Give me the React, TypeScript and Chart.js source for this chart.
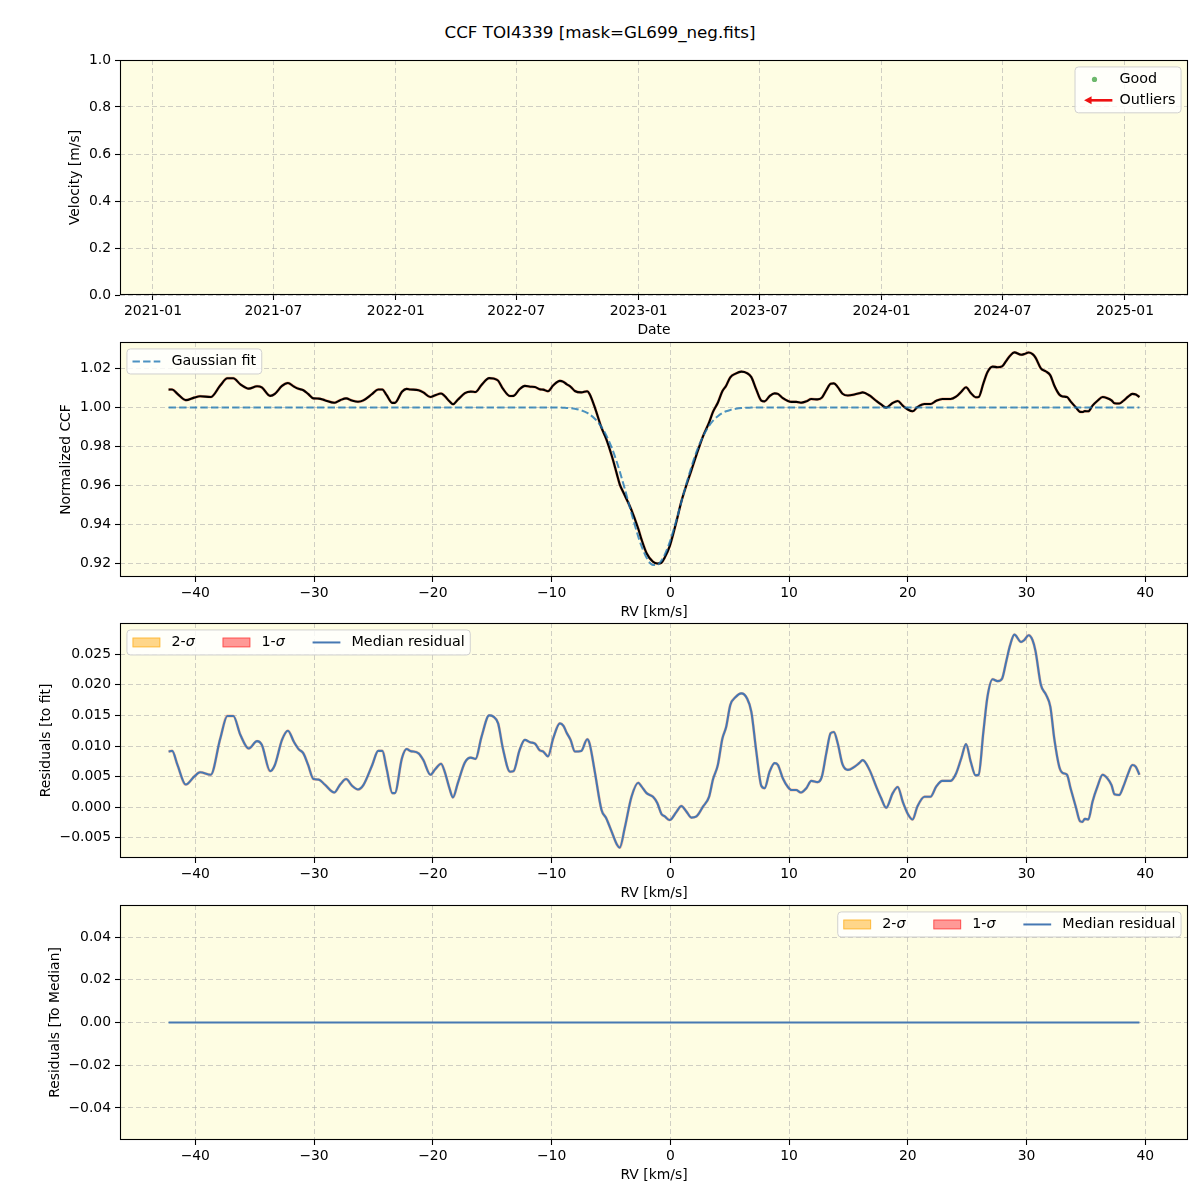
import React, { useEffect, useRef } from 'react';
import { Chart, registerables } from 'chart.js';

Chart.register(...registerables);

// ---------------- data ----------------
const rvKms = [
  -42.25, -41.95, -41.5, -40.8, -40.1, -39.6, -38.7, -37.9, -37.3, -36.8,
  -36.2, -35.5, -34.8, -34.4, -33.7, -33.3, -32.7, -32.2, -31.7, -31.3,
  -30.9, -30.5, -30.05, -29.6, -29.1, -28.3, -27.8, -27.3, -26.8, -26.3,
  -25.85, -25.1, -24.6, -24.25, -23.9, -23.4, -23.2, -22.6, -22.2, -21.9,
  -21.2, -20.8, -20.2, -19.8, -19.3, -19.0, -18.6, -18.3, -17.9, -17.3,
  -16.8, -16.4, -15.9, -15.25, -14.9, -14.5, -14.1, -13.5, -13.2, -12.7,
  -12.25, -11.8, -11.4, -11.0, -10.7, -10.3, -9.87, -9.3, -9.0, -8.74,
  -8.4, -8.04, -7.5, -7.0, -6.8, -6.36, -5.8, -5.4, -4.9, -4.5,
  -4.26, -3.84, -3.27, -2.7, -2.43, -2.0, -1.46, -1.1, -0.75, -0.47,
  -0.05, 0.5, 0.93, 1.35, 1.77, 2.2, 2.75, 3.26, 3.6, 4.0,
  4.38, 4.7, 5.05, 5.5, 5.98, 6.45, 6.82, 7.24, 7.66, 7.94,
  8.36, 8.78, 9.06, 9.48, 9.9, 10.2, 10.6, 11.0, 11.45, 11.87,
  12.4, 12.76, 13.13, 13.5, 13.77, 14.1, 14.5, 14.95, 15.5, 15.9,
  16.2, 16.77, 17.33, 17.75, 18.17, 18.73, 19.15, 19.57, 20.0, 20.4,
  20.8, 21.4, 21.9, 22.4, 22.9, 23.6, 24.06, 24.5, 24.9, 25.3,
  25.7, 25.96, 26.36, 26.7, 27.14, 27.56, 27.93, 28.27, 28.6, 28.97,
  29.53, 29.8, 30.17, 30.5, 30.75, 31.2, 31.63, 32.0, 32.33, 32.75,
  33.03, 33.4, 33.7, 34.15, 34.5, 34.7, 34.9, 35.2, 35.55, 35.97,
  36.4, 36.8, 37.15, 37.4, 37.8, 38.15, 38.55, 38.9, 39.2, 39.5,
];

const residualToFit = [
  0.0091, 0.0092, 0.0069, 0.0037, 0.0050, 0.0057, 0.0053, 0.0112, 0.0149, 0.0149,
  0.0118, 0.0096, 0.0108, 0.0102, 0.0059, 0.0069, 0.0110, 0.0125, 0.0107, 0.0095,
  0.0088, 0.0069, 0.0046, 0.0045, 0.0037, 0.0024, 0.0037, 0.0046, 0.0035, 0.0029,
  0.0036, 0.0069, 0.0092, 0.0092, 0.0064, 0.0023, 0.0023, 0.0080, 0.0095, 0.0092,
  0.0088, 0.0077, 0.0053, 0.0062, 0.0071, 0.0058, 0.0031, 0.0016, 0.0039, 0.0073,
  0.0081, 0.0079, 0.0115, 0.0150, 0.0148, 0.0137, 0.0096, 0.0058, 0.0059, 0.0093,
  0.0110, 0.0106, 0.0104, 0.0093, 0.0091, 0.0083, 0.0112, 0.0137, 0.0133, 0.0122,
  0.0110, 0.0091, 0.0092, 0.0111, 0.0104, 0.0058, -0.0004, -0.0018, -0.0042, -0.0061,
  -0.0066, -0.0034, 0.0017, 0.0040, 0.0034, 0.0023, 0.0017, 0.0007, -0.0011, -0.0015,
  -0.0021, -0.0008, 0.0002, -0.0007, -0.0017, -0.0015, 0.0001, 0.0017, 0.0046, 0.0069,
  0.0112, 0.0131, 0.0167, 0.0180, 0.0186, 0.0178, 0.0156, 0.0091, 0.0035, 0.0031,
  0.0058, 0.0072, 0.0069, 0.0047, 0.0033, 0.0028, 0.0028, 0.0024, 0.0031, 0.0043,
  0.0041, 0.0050, 0.0088, 0.0121, 0.0123, 0.0104, 0.0070, 0.0061, 0.0066, 0.0072,
  0.0077, 0.0061, 0.0034, 0.0015, -0.0001, 0.0023, 0.0033, 0.0009, -0.0011, -0.0020,
  0.0001, 0.0017, 0.0017, 0.0034, 0.0043, 0.0043, 0.0055, 0.0080, 0.0103, 0.0074,
  0.0052, 0.0053, 0.0123, 0.0180, 0.0209, 0.0206, 0.0210, 0.0237, 0.0264, 0.0282,
  0.0270, 0.0273, 0.0281, 0.0273, 0.0255, 0.0200, 0.0184, 0.0164, 0.0112, 0.0066,
  0.0056, 0.0053, 0.0031, 0.0000, -0.0023, -0.0024, -0.0019, -0.0020, 0.0009, 0.0034,
  0.0053, 0.0047, 0.0036, 0.0021, 0.0020, 0.0034, 0.0055, 0.0069, 0.0066, 0.0053,
];

const gaussianFit = [
  1, 1, 1, 1, 1, 1, 1, 1, 1, 1,
  1, 1, 1, 1, 1, 1, 1, 1, 1, 1,
  1, 1, 1, 1, 1, 1, 1, 1, 1, 1,
  1, 1, 1, 1, 1, 1, 1, 1, 1, 1,
  1, 1, 1, 1, 1, 1, 1, 1, 1, 1,
  1, 1, 1, 1, 1, 1, 1, 1, 1, 1,
  1, 1, 1, 1, 1, 1.0, 1.0, 0.9999, 0.9998, 0.9997,
  0.9996, 0.9993, 0.9985, 0.9972, 0.9964, 0.9942, 0.9900, 0.9857, 0.9788, 0.9719,
  0.9672, 0.9584, 0.9457, 0.9338, 0.9290, 0.9230, 0.9192, 0.9193, 0.9215, 0.9246,
  0.9310, 0.9420, 0.9516, 0.9608, 0.9694, 0.9772, 0.9851, 0.9905, 0.9932, 0.9955,
  0.9971, 0.9980, 0.9987, 0.9993, 0.9997, 0.9998, 0.9999, 1, 1, 1,
  1, 1, 1, 1, 1, 1, 1, 1, 1, 1,
  1, 1, 1, 1, 1, 1, 1, 1, 1, 1,
  1, 1, 1, 1, 1, 1, 1, 1, 1, 1,
  1, 1, 1, 1, 1, 1, 1, 1, 1, 1,
  1, 1, 1, 1, 1, 1, 1, 1, 1, 1,
  1, 1, 1, 1, 1, 1, 1, 1, 1, 1,
  1, 1, 1, 1, 1, 1, 1, 1, 1, 1,
  1, 1, 1, 1, 1, 1, 1, 1, 1, 1,
];

const medianRv = [-42.25, 39.5];
const residualToMedian = [0, 0];

const rvTicks = [-40, -30, -20, -10, 0, 10, 20, 30, 40];
const ccfTicks = [0.92, 0.94, 0.96, 0.98, 1.0, 1.02];
const residTicks = [-0.005, 0, 0.005, 0.01, 0.015, 0.02, 0.025];
const medianTicks = [-0.04, -0.02, 0, 0.02, 0.04];
const velocityTicks = [0, 0.2, 0.4, 0.6, 0.8, 1.0];
// days since 2021-01-01
const dateTickDays = [0, 181, 365, 546, 730, 911, 1095, 1277, 1461];
const dateTickLabels = ['2021-01', '2021-07', '2022-01', '2022-07', '2023-01', '2023-07', '2024-01', '2024-07', '2025-01'];

const TITLE = 'CCF TOI4339 [mask=GL699_neg.fits]';

// ---------------- styling ----------------
const FONT = '"DejaVu Sans", "Liberation Sans", sans-serif';
const FS = 13.9;
const LFS = 14.3;
const AX_BG = '#fefde3';
const GRID = 'rgba(170,170,170,0.55)';
const BLUE = '#4678b2';

function fmt(v: number, d: number) {
  const s = Math.abs(v) < 1e-12 ? (0).toFixed(d) : v.toFixed(d);
  return s.replace('-', '\u2212');
}

type Item = { label: string; math?: string; kind: 'dash' | 'line' | 'patch' | 'dot' | 'arrow'; color: string; edge?: string };

const bgPlugin = {
  id: 'axbg',
  beforeDraw(chart: any) {
    const { ctx, chartArea: a } = chart;
    ctx.save();
    ctx.fillStyle = AX_BG;
    ctx.fillRect(a.left, a.top, a.right - a.left, a.bottom - a.top);
    ctx.restore();
  },
};

const framePlugin = {
  id: 'frame',
  afterDraw(chart: any) {
    const { ctx, chartArea: a } = chart;
    ctx.save();
    ctx.setLineDash([]);
    ctx.strokeStyle = '#000';
    ctx.lineWidth = 1.1;
    ctx.strokeRect(a.left + 0.5, a.top + 0.5, a.right - a.left - 1, a.bottom - a.top - 1);
    ctx.restore();
  },
};

function legendPlugin(items: Item[], align: 'left' | 'right', ncol: number) {
  return {
    id: 'mplLegend',
    afterDraw(chart: any) {
      if (!items.length) return;
      const { ctx, chartArea: a } = chart;
      ctx.save();
      const font = `${LFS}px ${FONT}`;
      const ifont = `italic ${LFS}px ${FONT}`;
      const pad = 0.4 * FS, hl = 2 * FS, hp = 0.8 * FS, cs = 2 * FS, ls = 0.5 * FS;
      const widths = items.map((it) => {
        ctx.font = font;
        let w = ctx.measureText(it.label).width;
        if (it.math) { ctx.font = ifont; w += ctx.measureText(it.math).width; }
        return w;
      });
      const nrows = Math.ceil(items.length / ncol);
      const colW: number[] = [];
      for (let c = 0; c < ncol; c++) {
        let m = 0;
        for (let r = 0; r < nrows; r++) {
          const i = c * nrows + r;
          if (i < items.length) m = Math.max(m, widths[i]);
        }
        colW.push(m);
      }
      const W = 2 * pad + colW.reduce((s, w) => s + hl + hp + w, 0) + (ncol - 1) * cs;
      const H = 2 * pad + nrows * FS + (nrows - 1) * ls;
      const x0 = align === 'right' ? a.right - 0.5 * FS - W : a.left + 0.5 * FS;
      const y0 = a.top + 0.5 * FS;
      const rr = 3.5;
      ctx.beginPath();
      ctx.moveTo(x0 + rr, y0);
      ctx.lineTo(x0 + W - rr, y0);
      ctx.arcTo(x0 + W, y0, x0 + W, y0 + rr, rr);
      ctx.lineTo(x0 + W, y0 + H - rr);
      ctx.arcTo(x0 + W, y0 + H, x0 + W - rr, y0 + H, rr);
      ctx.lineTo(x0 + rr, y0 + H);
      ctx.arcTo(x0, y0 + H, x0, y0 + H - rr, rr);
      ctx.lineTo(x0, y0 + rr);
      ctx.arcTo(x0, y0, x0 + rr, y0, rr);
      ctx.closePath();
      ctx.fillStyle = 'rgba(255,255,255,0.8)';
      ctx.fill();
      ctx.strokeStyle = 'rgba(204,204,204,0.9)';
      ctx.lineWidth = 1;
      ctx.setLineDash([]);
      ctx.stroke();

      let cx = x0 + pad;
      for (let c = 0; c < ncol; c++) {
        for (let r = 0; r < nrows; r++) {
          const i = c * nrows + r;
          if (i >= items.length) continue;
          const it = items[i];
          const cy = y0 + pad + r * (FS + ls) + FS / 2;
          ctx.save();
          if (it.kind === 'dash' || it.kind === 'line') {
            ctx.strokeStyle = it.color;
            ctx.lineWidth = 2;
            ctx.setLineDash(it.kind === 'dash' ? [7.4, 3.2] : []);
            ctx.beginPath();
            ctx.moveTo(cx, cy);
            ctx.lineTo(cx + hl, cy);
            ctx.stroke();
          } else if (it.kind === 'patch') {
            ctx.fillStyle = it.color;
            ctx.fillRect(cx, cy - 0.35 * FS, hl, 0.7 * FS);
            ctx.strokeStyle = it.edge || it.color;
            ctx.lineWidth = 1;
            ctx.strokeRect(cx + 0.5, cy - 0.35 * FS + 0.5, hl - 1, 0.7 * FS - 1);
          } else if (it.kind === 'dot') {
            ctx.fillStyle = it.color;
            ctx.beginPath();
            ctx.arc(cx + hl / 2, cy, 2.6, 0, Math.PI * 2);
            ctx.fill();
          } else if (it.kind === 'arrow') {
            ctx.strokeStyle = it.color;
            ctx.fillStyle = it.color;
            ctx.lineWidth = 2.6;
            ctx.beginPath();
            ctx.moveTo(cx + hl + 4, cy);
            ctx.lineTo(cx + 9, cy);
            ctx.stroke();
            ctx.beginPath();
            ctx.moveTo(cx + 3.5, cy);
            ctx.lineTo(cx + 11, cy - 4);
            ctx.lineTo(cx + 11, cy + 4);
            ctx.closePath();
            ctx.fill();
          }
          ctx.restore();
          ctx.fillStyle = '#000';
          ctx.textBaseline = 'middle';
          ctx.textAlign = 'left';
          ctx.font = font;
          const tx = cx + hl + hp;
          ctx.fillText(it.label, tx, cy);
          if (it.math) {
            const lw = ctx.measureText(it.label).width;
            ctx.font = ifont;
            ctx.fillText(it.math, tx + lw, cy);
          }
        }
        cx += hl + hp + colW[c] + cs;
      }
      ctx.restore();
    },
  };
}

// ---------------- panels ----------------
const PAD_TOP = 15;
const X_AXIS_H = 45;
const Y_AXIS_W = 120;

type Panel = {
  top: number; bottom: number;
  xMin: number; xMax: number; xTicks: number[]; xLabel: (v: number, i: number) => string; xTitle: string;
  yMin: number; yMax: number; yTicks: number[]; yLabel: (v: number) => string; yTitle: string; yTitleX: number;
  datasets: any[];
  legend: { items: Item[]; align: 'left' | 'right'; ncol: number };
};

function makeChart(canvas: HTMLCanvasElement, p: Panel) {
  const tickFont = { family: FONT, size: FS };
  return new Chart(canvas, {
    type: 'line',
    data: { datasets: p.datasets },
    options: {
      responsive: false,
      animation: false,
      devicePixelRatio: 1,
      layout: { padding: { top: PAD_TOP, right: 12, left: 0, bottom: 0 } },
      plugins: { legend: { display: false }, tooltip: { enabled: false }, title: { display: false } },
      elements: { point: { radius: 0 }, line: { cubicInterpolationMode: 'monotone' } },
      scales: {
        x: {
          type: 'linear', position: 'bottom', bounds: 'data', min: p.xMin, max: p.xMax,
          afterBuildTicks: (s: any) => { s.ticks = p.xTicks.map((v) => ({ value: v })); },
          afterFit: (s: any) => { s.height = X_AXIS_H; },
          ticks: { callback: (v: any, i: number) => p.xLabel(Number(v), i), color: '#000', font: tickFont, padding: 3, maxRotation: 0, autoSkip: false },
          grid: { color: GRID, lineWidth: 1, tickLength: 5, tickColor: '#000', tickWidth: 1.1, tickBorderDash: [] },
          border: { display: false, dash: [5, 3] },
          title: { display: true, text: p.xTitle, color: '#000', font: tickFont, padding: { top: 0, bottom: 1.6 } },
        },
        y: {
          type: 'linear', position: 'left', bounds: 'data', min: p.yMin, max: p.yMax,
          afterBuildTicks: (s: any) => { s.ticks = p.yTicks.map((v) => ({ value: v })); },
          afterFit: (s: any) => { s.width = Y_AXIS_W; },
          ticks: { callback: (v: any) => p.yLabel(Number(v)), color: '#000', font: tickFont, padding: 4, autoSkip: false },
          grid: { color: GRID, lineWidth: 1, tickLength: 5, tickColor: '#000', tickWidth: 1.1, tickBorderDash: [] },
          border: { display: false, dash: [5, 3] },
          title: { display: true, text: p.yTitle, color: '#000', font: tickFont, padding: { top: p.yTitleX - 8.4, bottom: 0 } },
        },
      },
    } as any,
    plugins: [bgPlugin, framePlugin, legendPlugin(p.legend.items, p.legend.align, p.legend.ncol)],
  });
}

const rvFmt = (v: number) => fmt(v, 0);
const ccfNormalized = rvKms.map((x, i) => gaussianFit[i] + residualToFit[i]);

const sigmaItems: Item[] = [
  { label: '2-', math: '\u03c3', kind: 'patch', color: 'rgba(255,165,0,0.45)', edge: 'rgba(255,165,0,0.55)' },
  { label: '1-', math: '\u03c3', kind: 'patch', color: 'rgba(255,0,0,0.4)', edge: 'rgba(255,0,0,0.45)' },
  { label: 'Median residual', kind: 'line', color: BLUE },
];

const panels: Panel[] = [
  {
    top: 60, bottom: 295,
    xMin: -49.6, xMax: 1555.7, xTicks: dateTickDays, xLabel: (_v, i) => dateTickLabels[i], xTitle: 'Date',
    yMin: 0, yMax: 1, yTicks: velocityTicks, yLabel: (v) => fmt(v, 1), yTitle: 'Velocity [m/s]', yTitleX: 75,
    datasets: [],
    legend: {
      items: [
        { label: 'Good', kind: 'dot', color: 'rgba(60,160,60,0.75)' },
        { label: 'Outliers', kind: 'arrow', color: '#ee1111' },
      ],
      align: 'right', ncol: 1,
    },
  },
  {
    top: 342, bottom: 577,
    xMin: -46.34, xMax: 43.59, xTicks: rvTicks, xLabel: rvFmt, xTitle: 'RV [km/s]',
    yMin: 0.9131, yMax: 1.0335, yTicks: ccfTicks, yLabel: (v) => fmt(v, 2), yTitle: 'Normalized CCF', yTitleX: 66,
    datasets: [
      { data: rvKms.map((x, i) => ({ x, y: gaussianFit[i] })), borderColor: 'rgba(31,119,180,0.8)', borderWidth: 2, borderDash: [7.4, 3.2], order: 0 },
      { data: rvKms.map((x, i) => ({ x, y: ccfNormalized[i] })), borderColor: '#000000', borderWidth: 2.1, order: 1 },
      { data: rvKms.map((x, i) => ({ x, y: ccfNormalized[i] })), borderColor: 'rgba(255,90,50,0.45)', borderWidth: 2.9, order: 2 },
    ],
    legend: { items: [{ label: 'Gaussian fit', kind: 'dash', color: 'rgba(31,119,180,0.8)' }], align: 'left', ncol: 1 },
  },
  {
    top: 623, bottom: 858,
    xMin: -46.34, xMax: 43.59, xTicks: rvTicks, xLabel: rvFmt, xTitle: 'RV [km/s]',
    yMin: -0.0083, yMax: 0.0301, yTicks: residTicks, yLabel: (v) => fmt(v, 3), yTitle: 'Residuals [to fit]', yTitleX: 46,
    datasets: [
      { data: rvKms.map((x, i) => ({ x, y: residualToFit[i] })), borderColor: BLUE, borderWidth: 2.1, order: 0 },
      { data: rvKms.map((x, i) => ({ x, y: residualToFit[i] })), borderColor: 'rgba(255,100,60,0.4)', borderWidth: 2.9, order: 1 },
    ],
    legend: { items: sigmaItems, align: 'left', ncol: 3 },
  },
  {
    top: 905, bottom: 1140,
    xMin: -46.34, xMax: 43.59, xTicks: rvTicks, xLabel: rvFmt, xTitle: 'RV [km/s]',
    yMin: -0.055, yMax: 0.055, yTicks: medianTicks, yLabel: (v) => fmt(v, 2), yTitle: 'Residuals [To Median]', yTitleX: 55,
    datasets: [
      { data: medianRv.map((x, i) => ({ x, y: residualToMedian[i] })), borderColor: BLUE, borderWidth: 2, order: 0 },
    ],
    legend: { items: sigmaItems, align: 'right', ncol: 3 },
  },
];

export default function App() {
  const refs = [useRef<HTMLCanvasElement>(null), useRef<HTMLCanvasElement>(null), useRef<HTMLCanvasElement>(null), useRef<HTMLCanvasElement>(null)];
  useEffect(() => {
    const charts = panels.map((p, i) => makeChart(refs[i].current as HTMLCanvasElement, p));
    return () => charts.forEach((c) => c.destroy());
  }, []);
  return (
    <div style={{ position: 'absolute', left: 0, top: 0, width: 1200, height: 1200, background: '#fff', overflow: 'hidden' }}>
      <div style={{ position: 'absolute', left: 0, top: 22, width: 1200, textAlign: 'center', fontFamily: FONT, fontSize: 16.7, lineHeight: '20px', color: '#000' }}>
        {TITLE}
      </div>
      {panels.map((p, i) => (
        <canvas
          key={i}
          ref={refs[i]}
          width={1200}
          height={p.bottom - p.top + PAD_TOP + X_AXIS_H}
          style={{ position: 'absolute', left: 0, top: p.top - PAD_TOP, width: 1200, height: p.bottom - p.top + PAD_TOP + X_AXIS_H }}
        />
      ))}
    </div>
  );
}
